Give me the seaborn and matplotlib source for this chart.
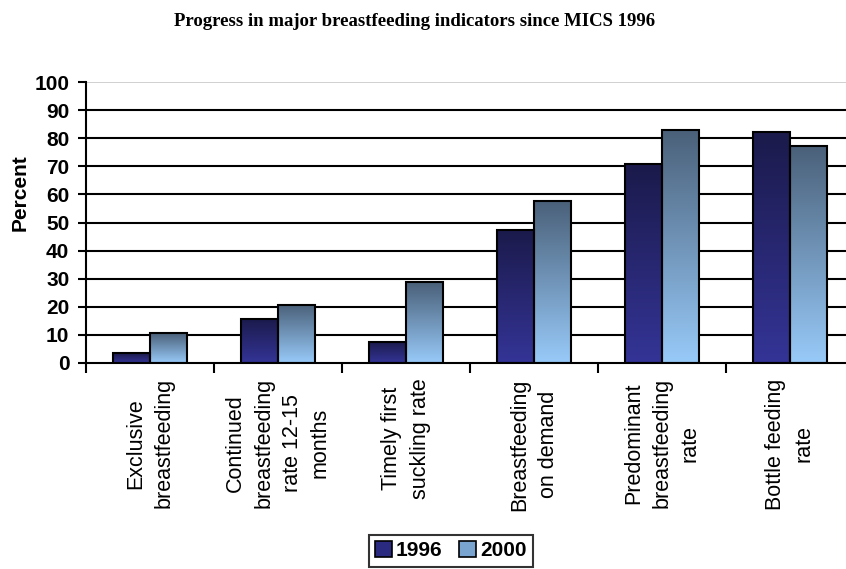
import matplotlib
matplotlib.use("Agg")
import matplotlib.pyplot as plt
import matplotlib.ticker as mticker
from matplotlib.colors import LinearSegmentedColormap
from matplotlib.patches import Patch
import numpy as np
import pandas as pd
import seaborn as sns

# ---------------------------------------------------------------------------
# Data
# ---------------------------------------------------------------------------
indicators = [
    "Exclusive\nbreastfeeding",
    "Continued\nbreastfeeding\nrate 12-15\nmonths",
    "Timely first\nsuckling rate",
    "Breastfeeding\non demand",
    "Predominant\nbreastfeeding\nrate",
    "Bottle feeding\nrate",
]
years = ["1996", "2000"]
values_1996 = [3.5, 15.7, 7.5, 47.5, 70.7, 82.3]
values_2000 = [10.5, 20.8, 28.8, 57.7, 83.0, 77.4]

# gradient (top, bottom) per series
GRAD = {
    "1996": ("#1b1a4b", "#343497"),
    "2000": ("#4a6079", "#98caf9"),
}

df = pd.DataFrame({
    "indicator": indicators * 2,
    "year": [years[0]] * len(indicators) + [years[1]] * len(indicators),
    "percent": values_1996 + values_2000,
})

sns.set_style("white")
plt.rcParams["font.family"] = ["Liberation Sans", "DejaVu Sans"]
plt.rcParams.update({
    "text.color": "black",
    "axes.labelcolor": "black",
    "xtick.color": "black",
    "ytick.color": "black",
})

fig = plt.figure(figsize=(8.46, 5.69), dpi=100)
ax = fig.add_axes([86 / 846, 1 - 363 / 569, 768 / 846, 281 / 569])

sns.barplot(
    data=df, x="indicator", y="percent", hue="year", order=indicators,
    hue_order=years, palette=[GRAD[y][1] for y in years], width=0.58,
    gap=0, edgecolor="black", linewidth=1.5, legend=False, ax=ax,
)

# replace flat fills with vertical gradients
grad_img = np.linspace(0, 1, 256).reshape(-1, 1)
for container, year in zip(ax.containers, years):
    cmap = LinearSegmentedColormap.from_list(year, [GRAD[year][1], GRAD[year][0]])
    for bar in container:
        x0, y0 = bar.get_x(), bar.get_y()
        w, h = bar.get_width(), bar.get_height()
        im = ax.imshow(grad_img, cmap=cmap, origin="lower", aspect="auto",
                       extent=[x0, x0 + w, y0, y0 + h], zorder=bar.get_zorder())
        im.set_clip_path(bar)
        bar.set_facecolor("none")
        bar.set_zorder(bar.get_zorder() + 0.1)

ax.set_xlim(-0.5, len(indicators) - 0.5)
ax.set_ylim(0, 100)

# gridlines
for v in range(10, 100, 10):
    ax.axhline(v, color="black", lw=1.5, zorder=0.5)
ax.axhline(100, color="#c8c8c8", lw=1.2, zorder=0.5)

for s in ["top", "right"]:
    ax.spines[s].set_visible(False)
ax.spines["left"].set_linewidth(1.5)
ax.spines["bottom"].set_linewidth(1.5)
ax.spines["left"].set_color("black")
ax.spines["bottom"].set_color("black")

ax.yaxis.set_major_locator(mticker.MultipleLocator(10))
ax.tick_params(axis="y", direction="out", length=6, width=1.5, left=True,
               labelsize=15, pad=6)
for lbl in ax.get_yticklabels():
    lbl.set_fontweight("bold")

ax.set_xticks(range(len(indicators)))
ax.set_xticklabels(indicators, rotation=90, ha="center", va="top",
                   multialignment="center", fontsize=15.5, linespacing=1.45)
ax.xaxis.set_minor_locator(mticker.FixedLocator(
    np.arange(-0.5, len(indicators), 1.0)))
ax.tick_params(axis="x", which="major", length=0, pad=11)
ax.tick_params(axis="x", which="minor", direction="out", length=7,
               width=1.5, bottom=True)

ax.set_xlabel("")
ax.set_ylabel("Percent", fontsize=15, fontweight="bold")
ax.yaxis.set_label_coords(-56 / 768, (363 - 193) / 281)

fig.text(415 / 846, 1 - 22 / 569,
         "Progress in major breastfeeding indicators since MICS 1996",
         family="Liberation Serif", fontweight="bold", fontsize=13.5,
         ha="center", va="center")

handles = [Patch(facecolor="#2a2a80", edgecolor="black", lw=1.2),
           Patch(facecolor="#7aa4d0", edgecolor="black", lw=1.2)]
leg = fig.legend(handles, years, loc="upper center",
                 bbox_to_anchor=(451 / 846, 1 - 535 / 569), ncol=2,
                 frameon=True, fancybox=False, edgecolor="black",
                 prop={"weight": "bold", "size": 15}, handlelength=0.8,
                 handleheight=0.8, handletextpad=0.2, columnspacing=0.8,
                 borderpad=0.3, borderaxespad=0)
leg.get_frame().set_linewidth(1.5)

fig.savefig("out.png", dpi=100)
